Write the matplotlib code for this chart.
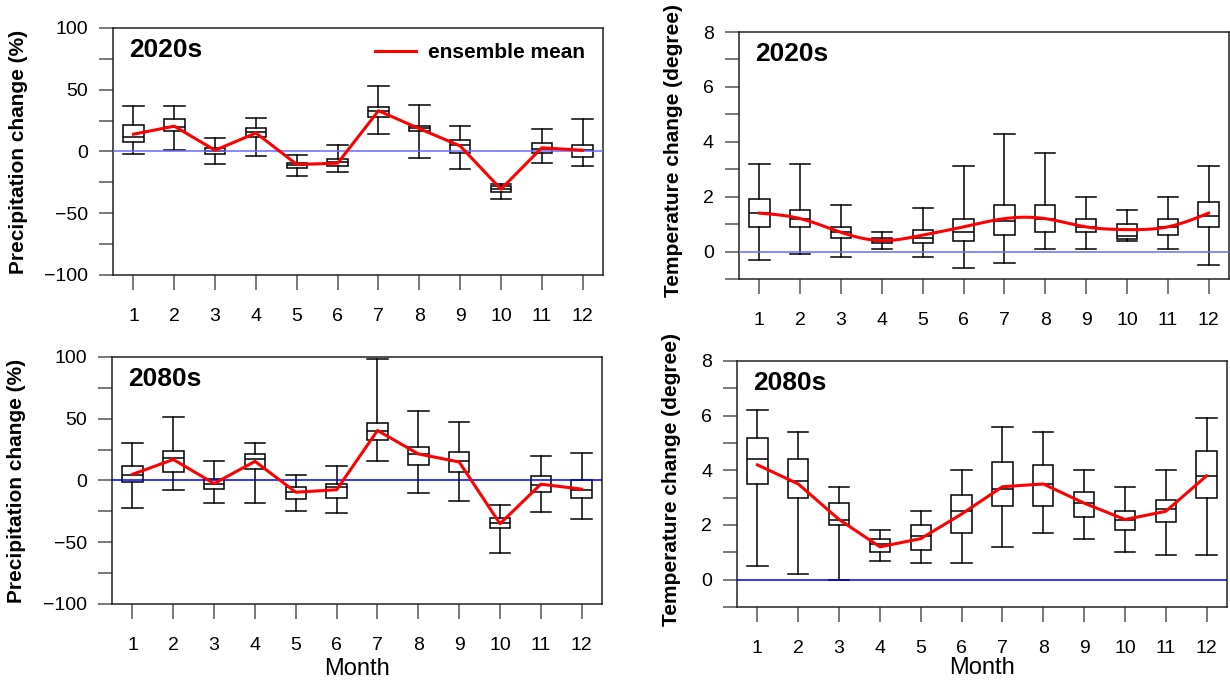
import numpy as np
import matplotlib
matplotlib.use("Agg")
from matplotlib import pyplot as plt
from matplotlib.ticker import MultipleLocator

plt.rcParams["font.family"] = ["Liberation Sans", "DejaVu Sans"]

months = list(range(1, 13))

# precipitation change (%), 2020s
p20_hi = [37, 37, 11, 27, -3, 5, 53, 38, 21, -26, 18.5, 26.5]
p20_q3 = [21.5, 26, 2.5, 19, -9, -6, 36, 21, 9.5, -28, 6.5, 5]
p20_med = [12, 20, 0.5, 15.5, -11, -8.5, 33, 19, 5, -30, 2, 1]
p20_q1 = [7.5, 16.5, -2, 12, -13, -11.5, 28, 16.5, -1, -32.5, -1, -4.5]
p20_lo = [-2, 1, -10.5, -4, -20, -16.5, 14, -5, -14, -38.5, -9, -12]
p20_mean = [14, 20.5, 1, 15, -10.5, -9.5, 33, 18.5, 4.5, -30.5, 3, 1]

# temperature change (degree), 2020s
t20_hi = [3.2, 3.2, 1.7, 0.7, 1.6, 3.1, 4.3, 3.6, 2.0, 1.5, 2.0, 3.1]
t20_q3 = [1.9, 1.5, 0.9, 0.5, 0.8, 1.2, 1.7, 1.7, 1.2, 1.0, 1.2, 1.8]
t20_med = [1.4, 1.2, 0.7, 0.4, 0.5, 0.7, 1.1, 1.2, 0.9, 0.55, 0.9, 1.3]
t20_q1 = [0.9, 0.9, 0.5, 0.3, 0.3, 0.4, 0.6, 0.7, 0.7, 0.45, 0.6, 0.9]
t20_lo = [-0.3, -0.1, -0.2, 0.1, -0.2, -0.6, -0.4, 0.1, 0.1, 0.4, 0.1, -0.5]
t20_mean = [1.4, 1.2, 0.7, 0.4, 0.6, 0.9, 1.2, 1.2, 0.9, 0.8, 0.9, 1.4]

# precipitation change (%), 2080s
p80_hi = [30, 51.5, 16, 30.5, 4.5, 11.5, 98, 56.5, 47, -19.5, 20, 22.5]
p80_q3 = [11.5, 24, 1.5, 21.5, -5, -2.5, 46.5, 27.5, 23, -30.5, 4, 0.5]
p80_med = [4.5, 18, -3, 17.5, -9, -5.5, 40, 21.5, 15.5, -34.5, -4, -8]
p80_q1 = [-1.5, 6.5, -6.5, 9.5, -15, -14.5, 32.5, 12.5, 6.5, -38.5, -9.5, -14]
p80_lo = [-22, -8, -18.5, -18, -25, -26.5, 16, -10.5, -17, -58.5, -25.5, -31]
p80_mean = [5, 17, -2.5, 15.5, -9.5, -7.5, 40.5, 21.5, 15, -35, -3, -7]

# temperature change (degree), 2080s
t80_hi = [6.2, 5.4, 3.4, 1.8, 2.5, 4.0, 5.6, 5.4, 4.0, 3.4, 4.0, 5.9]
t80_q3 = [5.2, 4.4, 2.8, 1.5, 2.0, 3.1, 4.3, 4.2, 3.2, 2.5, 2.9, 4.7]
t80_med = [4.4, 3.6, 2.2, 1.3, 1.6, 2.5, 3.3, 3.5, 2.8, 2.2, 2.6, 3.8]
t80_q1 = [3.5, 3.0, 2.0, 1.0, 1.1, 1.7, 2.7, 2.7, 2.3, 1.8, 2.1, 3.0]
t80_lo = [0.5, 0.2, 0.0, 0.7, 0.6, 0.6, 1.2, 1.7, 1.5, 1.0, 0.9, 0.9]
t80_mean = [4.2, 3.5, 2.2, 1.2, 1.5, 2.4, 3.4, 3.5, 2.8, 2.2, 2.5, 3.8]


def spline(x, y, n=300):
    # natural cubic spline, only used to draw a smooth line through the means
    x = np.asarray(x, float)
    y = np.asarray(y, float)
    k = len(x)
    h = np.diff(x)
    A = np.zeros((k, k))
    b = np.zeros(k)
    A[0, 0] = A[-1, -1] = 1
    for i in range(1, k - 1):
        A[i, i - 1] = h[i - 1]
        A[i, i] = 2 * (h[i - 1] + h[i])
        A[i, i + 1] = h[i]
        b[i] = 6 * ((y[i + 1] - y[i]) / h[i] - (y[i] - y[i - 1]) / h[i - 1])
    m = np.linalg.solve(A, b)
    xs = np.linspace(x[0], x[-1], n)
    idx = np.clip(np.searchsorted(x, xs) - 1, 0, k - 2)
    t = xs - x[idx]
    hi = h[idx]
    ys = (m[idx] * (x[idx + 1] - xs) ** 3 / (6 * hi) + m[idx + 1] * t ** 3 / (6 * hi)
          + (y[idx] / hi - m[idx] * hi / 6) * (x[idx + 1] - xs)
          + (y[idx + 1] / hi - m[idx + 1] * hi / 6) * t)
    return xs, ys


def panel(ax, lo, q1, med, q3, hi, mean, label, ylabel, ylim, major, minor,
          zero_color, smooth=False):
    stats = [dict(whislo=a, q1=b, med=c, q3=d, whishi=e)
             for a, b, c, d, e in zip(lo, q1, med, q3, hi)]
    ax.bxp(stats, positions=months, widths=0.5, capwidths=0.5, showfliers=False,
           patch_artist=True,
           boxprops=dict(facecolor="white", edgecolor="black", linewidth=1.1),
           medianprops=dict(color="black", linewidth=1.1),
           whiskerprops=dict(color="black", linewidth=1.1),
           capprops=dict(color="black", linewidth=1.1))
    ax.axhline(0, color=zero_color, linewidth=1.1, zorder=3)
    if smooth:
        xs, ys = spline(months, mean)
        ax.plot(xs, ys, color="red", linewidth=2.2, zorder=4, label="ensemble mean")
    else:
        ax.plot(months, mean, color="red", linewidth=2.2, zorder=4, label="ensemble mean")

    ax.set_xlim(0.5, 12.5)
    ax.set_ylim(*ylim)
    ax.set_xticks(months)
    ax.set_xticklabels([str(m) for m in months])
    ax.yaxis.set_major_locator(MultipleLocator(major))
    ax.yaxis.set_minor_locator(MultipleLocator(minor))
    ax.tick_params(axis="both", which="both", direction="out", color="#555555",
                   width=1.1, labelsize=14)
    ax.tick_params(axis="y", which="both", length=10, pad=8)
    ax.tick_params(axis="x", length=10.5, pad=13)
    for s in ax.spines.values():
        s.set_color("#222222")
        s.set_linewidth(1.1)
    ax.set_ylabel(ylabel, fontsize=15, fontweight="bold")
    ax.text(0.033, 0.91, label, transform=ax.transAxes, fontsize=19,
            fontweight="bold", ha="left", va="center")


def main():
    fig = plt.figure(figsize=(12.3, 6.81), dpi=100)
    ax1 = fig.add_axes([0.0919, 0.5962, 0.3984, 0.3627])
    ax2 = fig.add_axes([0.6008, 0.5903, 0.3984, 0.3627])
    ax3 = fig.add_axes([0.0911, 0.1131, 0.3984, 0.3627])
    ax4 = fig.add_axes([0.5992, 0.1087, 0.3984, 0.3612])

    panel(ax1, p20_lo, p20_q1, p20_med, p20_q3, p20_hi, p20_mean, "2020s",
          "Precipitation change (%)", (-100, 100), 50, 25, "#6a6aff")
    panel(ax2, t20_lo, t20_q1, t20_med, t20_q3, t20_hi, t20_mean, "2020s",
          "Temperature change (degree)", (-1, 8), 2, 1, "#6a6aff", smooth=True)
    panel(ax3, p80_lo, p80_q1, p80_med, p80_q3, p80_hi, p80_mean, "2080s",
          "Precipitation change (%)", (-100, 100), 50, 25, "blue")
    panel(ax4, t80_lo, t80_q1, t80_med, t80_q3, t80_hi, t80_mean, "2080s",
          "Temperature change (degree)", (-1, 8), 2, 1, "blue")

    # label x is the right edge of the rotated text
    ax1.yaxis.set_label_coords(-0.173, 0.5)
    ax3.yaxis.set_label_coords(-0.175, 0.5)
    ax2.yaxis.set_label_coords(-0.114, 0.52)
    ax4.yaxis.set_label_coords(-0.114, 0.52)

    ax3.set_xlabel("Month", fontsize=17, labelpad=3)
    ax4.set_xlabel("Month", fontsize=17, labelpad=0)

    ax1.legend(loc="center right", bbox_to_anchor=(0.963, 0.899),
               frameon=False, borderaxespad=0, borderpad=0,
               handlelength=2.0, handletextpad=0.55,
               prop=dict(size=15, weight="bold"))

    fig.savefig("out.png", dpi=100)


if __name__ == "__main__":
    main()
